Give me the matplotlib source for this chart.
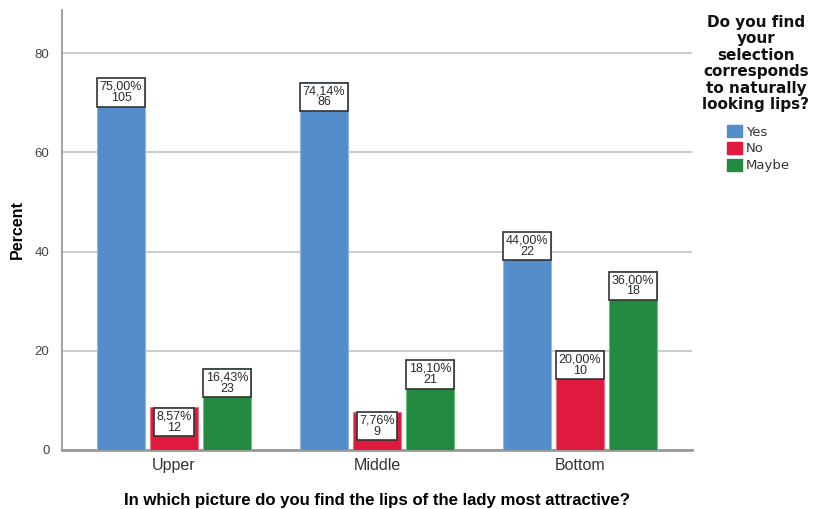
import matplotlib
matplotlib.use("Agg")
import matplotlib.pyplot as plt
import numpy as np
from matplotlib.patches import Patch

plt.rcParams['font.family'] = ['Liberation Sans', 'DejaVu Sans']

categories = ["Upper", "Middle", "Bottom"]
series_names = ["Yes", "No", "Maybe"]
percents = {
    "Yes":   [75.00, 74.14, 44.00],
    "No":    [8.57, 7.76, 20.00],
    "Maybe": [16.43, 18.10, 36.00],
}
counts = {
    "Yes":   [105, 86, 22],
    "No":    [12, 9, 10],
    "Maybe": [23, 21, 18],
}
colors = {"Yes": "#548dcc", "No": "#e01a3f", "Maybe": "#238a40"}
edges = {"Yes": "#8fb6e3", "No": "#ee6f86", "Maybe": "#6cc080"}

fig = plt.figure(figsize=(8.16, 5.09), dpi=100)
ax = fig.add_axes([62/816, 1-450/509, 630/816, 440/509])

x = np.arange(len(categories))
step = 0.261
width = 0.236
for i, name in enumerate(series_names):
    pos = x + (i - 1) * step
    vals = percents[name]
    ax.bar(pos, vals, width=width, color=colors[name], edgecolor=edges[name],
           linewidth=0.8, zorder=3)
    for px, v, c in zip(pos, vals, counts[name]):
        lbl = f"{v:.2f}".replace(".", ",") + f"%\n{c}"
        ax.annotate(lbl, xy=(px, v), xytext=(0, -2.0), textcoords="offset points",
                    ha="center", va="top", fontsize=9, color="#2a2a2a",
                    linespacing=0.92, zorder=5,
                    bbox=dict(boxstyle="square,pad=0.2", fc="white",
                              ec="#333333", lw=1.2))

ax.set_xlim(-0.552, 2.552)
ax.set_ylim(0, 88.7)
ax.set_yticks([0, 20, 40, 60, 80])
ax.set_xticks(x)
ax.set_xticklabels(categories, fontsize=11.5, color="#333333")
ax.tick_params(axis="y", labelsize=9.5, colors="#444444", length=0, pad=9)
ax.tick_params(axis="x", length=0, pad=6)
ax.yaxis.grid(True, color="#c8c8c8", linewidth=1.3, zorder=0)
ax.set_axisbelow(True)
for s in ["top", "right"]:
    ax.spines[s].set_visible(False)
ax.spines["left"].set_color("#999999")
ax.spines["left"].set_linewidth(1.3)
ax.spines["bottom"].set_color("#999999")
ax.spines["bottom"].set_linewidth(2)

ax.set_ylabel("Percent", fontsize=11.5, fontweight="bold", labelpad=7)
ax.set_xlabel("In which picture do you find the lips of the lady most attractive?",
              fontsize=12.1, fontweight="bold", labelpad=14)

fig.text(756/816, 1-15/509,
         "Do you find\nyour\nselection\ncorresponds\nto naturally\nlooking lips?",
         ha="center", va="top", fontsize=11, fontweight="bold",
         linespacing=1.12, color="#111111", family="DejaVu Sans")
handles = [Patch(facecolor=colors[n], edgecolor=colors[n]) for n in series_names]
fig.legend(handles, series_names, loc="upper left",
           bbox_to_anchor=(722/816, 1-120/509), frameon=False,
           handlelength=1.1, handleheight=1.0,
           handletextpad=0.3, labelspacing=0.25, borderaxespad=0,
           labelcolor="#333333", prop={'family': 'DejaVu Sans', 'size': 9.5})

fig.savefig("out.png", dpi=100)
